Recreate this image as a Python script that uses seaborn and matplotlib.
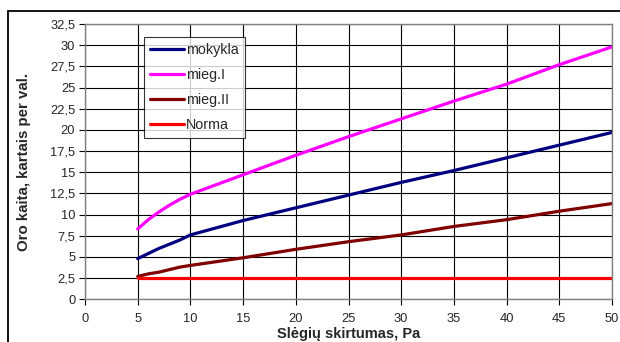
import matplotlib
matplotlib.use("Agg")
import matplotlib.pyplot as plt
import seaborn as sns
import pandas as pd
from matplotlib.ticker import FuncFormatter, MultipleLocator
from matplotlib.patches import Rectangle

x_vals = [5, 6, 7, 8, 9, 10, 15, 20, 25, 30, 35, 40, 45, 50]
mokykla = [4.8, 5.4, 6.0, 6.5, 7.0, 7.6, 9.3, 10.8, 12.3, 13.8, 15.2, 16.7, 18.2, 19.7]
mieg_I = [8.3, 9.4, 10.3, 11.1, 11.8, 12.4, 14.7, 17.0, 19.2, 21.3, 23.4, 25.4, 27.7, 29.8]
mieg_II = [2.7, 3.0, 3.2, 3.5, 3.8, 4.0, 4.9, 5.9, 6.8, 7.6, 8.6, 9.4, 10.4, 11.3]
norma = [2.5] * len(x_vals)
series_names = ["mokykla", "mieg.I", "mieg.II", "Norma"]
colors = ["#000080", "#FF00FF", "#800000", "#FF0000"]

frames = []
for name, vals in zip(series_names, [mokykla, mieg_I, mieg_II, norma]):
    frames.append(pd.DataFrame({"x": x_vals, "y": vals, "series": name}))
df = pd.concat(frames, ignore_index=True)

sns.set_style("white")
plt.rcParams["font.family"] = ["Liberation Sans", "DejaVu Sans"]

fig = plt.figure(figsize=(6.2, 3.42), dpi=100)
ax = fig.add_axes([85/620, 1-299.3/342, (612-85)/620, (299.3-24)/342])

sns.lineplot(data=df, x="x", y="y", hue="series", hue_order=series_names,
             palette=colors, linewidth=2.3, ax=ax, legend=True)

ax.set_xlim(0, 50)
ax.set_ylim(0, 32.5)
ax.xaxis.set_major_locator(MultipleLocator(5))
ax.yaxis.set_major_locator(MultipleLocator(2.5))
fmt = FuncFormatter(lambda v, p: (f"{v:g}").replace(".", ","))
ax.xaxis.set_major_formatter(fmt)
ax.yaxis.set_major_formatter(fmt)
ax.grid(True, color="black", linewidth=0.8)
ax.set_axisbelow(True)
for s in ax.spines.values():
    s.set_color("#808080")
    s.set_linewidth(1.0)
ax.tick_params(axis="both", direction="out", length=4, width=0.8, color="black",
               labelsize=9.3, pad=3, bottom=True, left=True)
ax.tick_params(axis="x", pad=6)

ax.set_xlabel("Slėgių skirtumas, Pa", fontsize=10.5, fontweight="bold", labelpad=1)
ax.set_ylabel("Oro kaita, kartais per val.", fontsize=10.8, fontweight="bold", labelpad=14)

leg = ax.legend(loc="upper left", bbox_to_anchor=(0.112, 0.953), borderaxespad=0,
                fontsize=10.3, handlelength=2.4, handletextpad=0.15, labelspacing=0.78,
                frameon=True, fancybox=False, borderpad=0.4)
leg.get_frame().set_edgecolor("black")
leg.get_frame().set_linewidth(0.8)
for line in leg.get_lines():
    line.set_linewidth(2.3)

fig.patches.append(Rectangle((8/620, -0.1), 1.2, 1-11/342+0.1, transform=fig.transFigure,
                             fill=False, edgecolor="black", linewidth=1.3))

fig.savefig("out.png", dpi=100)
